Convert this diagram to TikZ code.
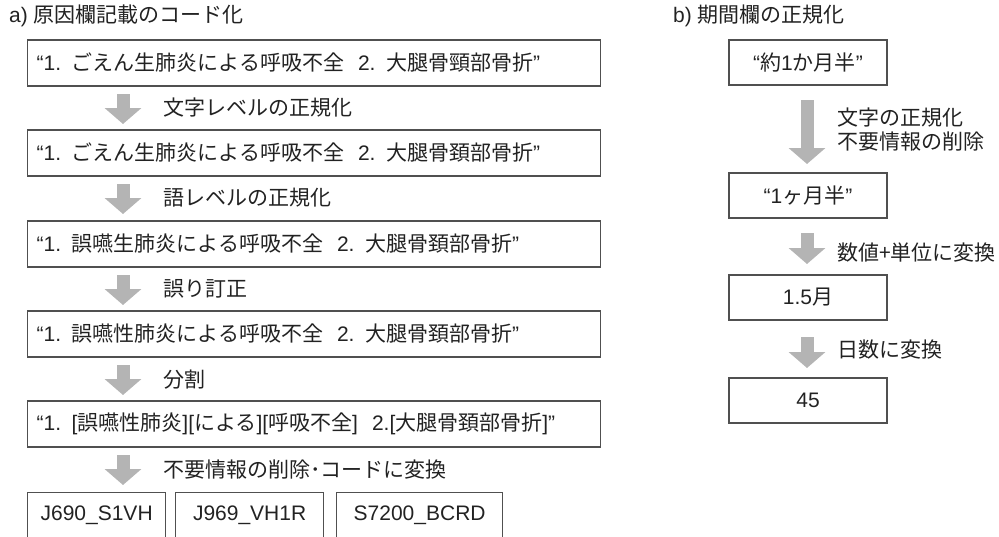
\documentclass[tikz,border=0pt]{standalone}
\usepackage{fontspec}
\setmainfont{Liberation Sans}
\newfontfamily\jp{Noto Sans CJK JP}
\usetikzlibrary{arrows.meta}
\definecolor{arrowgray}{HTML}{B4B4B4}
\definecolor{linegray}{HTML}{505050}
\definecolor{textgray}{HTML}{222222}
\tikzset{
  box/.style={draw=linegray, line width=1.3pt, text=textgray, inner ysep=0pt},
  longbox/.style={box, anchor=west, text width=555pt, inner xsep=9pt, align=left, minimum height=46pt},
  shortbox/.style={box, minimum width=158pt, minimum height=45pt},
  codebox/.style={box, anchor=north west, minimum height=46pt},
  stepnote/.style={anchor=west, inner sep=0pt, text=textgray, font=\fontsize{21}{24}\selectfont\jp},
  fatarrow/.style={draw=arrowgray, line width=13pt, -{Triangle[width=36pt,length=16pt]}}
}
\begin{document}
\begin{tikzpicture}[x=1pt, y=-1pt, font=\fontsize{21}{24}\selectfont]
  \useasboundingbox (0,0) rectangle (999,536);

      \node[stepnote] (ta) at (9,16)  {\fontspec{Liberation Sans}a)\ \jp 原因欄記載のコード化};
      \node[stepnote] (tb) at (673,16) {\fontspec{Liberation Sans}b)\ \jp 期間欄の正規化};

      \begin{scope}[every node/.style={longbox}]
        \node (a1) at (27,63)  {“1. {\jp ごえん生肺炎による呼吸不全}\ \ 2. {\jp 大腿骨頸部骨折}”};
        \node (a2) at (27,153) {“1. {\jp ごえん生肺炎による呼吸不全}\ \ 2. {\jp 大腿骨頚部骨折}”};
        \node (a3) at (27,244) {“1. {\jp 誤嚥生肺炎による呼吸不全}\ \ 2. {\jp 大腿骨頚部骨折}”};
        \node (a4) at (27,334) {“1. {\jp 誤嚥性肺炎による呼吸不全}\ \ 2. {\jp 大腿骨頚部骨折}”};
        \node (a5) at (27,424) {“1. [{\jp 誤嚥性肺炎}][{\jp による}][{\jp 呼吸不全}]\ \ 2.[{\jp 大腿骨頚部骨折}]”};
      \end{scope}

      \begin{scope}[every node/.style={codebox}]
        \node[minimum width=138pt] (c1) at (27,492)  {J690\_S1VH};
        \node[minimum width=148pt] (c2) at (175,492) {J969\_VH1R};
        \node[minimum width=166pt] (c3) at (336,492) {S7200\_BCRD};
      \end{scope}

      \begin{scope}[every node/.style={shortbox}]
        \node (b1) at (808,62.5)  {“{\jp 約}1{\jp か月半}”};
        \node (b2) at (808,195.5) {“1{\jp ヶ月半}”};
        \node (b3) at (808,297.5) {1.5{\jp 月}};
        \node (b4) at (808,400.5) {45};
      \end{scope}

      \coordinate (p1) at (123,94);  \coordinate (q1) at (123,124);
      \coordinate (p2) at (123,184); \coordinate (q2) at (123,214);
      \coordinate (p3) at (123,275); \coordinate (q3) at (123,305);
      \coordinate (p4) at (123,365); \coordinate (q4) at (123,395);
      \coordinate (p5) at (123,455); \coordinate (q5) at (123,485);
      \coordinate (r1) at (807,100); \coordinate (s1) at (807,164);
      \coordinate (r2) at (807,233); \coordinate (s2) at (807,264);
      \coordinate (r3) at (807,337); \coordinate (s3) at (807,368);

      \begin{scope}[every edge/.style={fatarrow}]
        \path (p1) edge (q1);
        \path (p2) edge (q2);
        \path (p3) edge (q3);
        \path (p4) edge (q4);
        \path (p5) edge (q5);
        \path (r1) edge (s1);
        \path (r2) edge (s2);
        \path (r3) edge (s3);
      \end{scope}

      \begin{scope}[every node/.style={stepnote}]
        \node (l1) at (163,108) {文字レベルの正規化};
        \node (l2) at (163,198) {語レベルの正規化};
        \node (l3) at (163,289) {誤り訂正};
        \node (l4) at (163,380) {分割};
        \node (l5) at (163,470) {不要情報の削除･コードに変換};
        \node[align=left] (m1) at (837,130) {文字の正規化\\不要情報の削除};
        \node (m2) at (837,253) {数値+単位に変換};
        \node (m3) at (837,350) {日数に変換};
      \end{scope}

    \end{tikzpicture}
\end{document}
